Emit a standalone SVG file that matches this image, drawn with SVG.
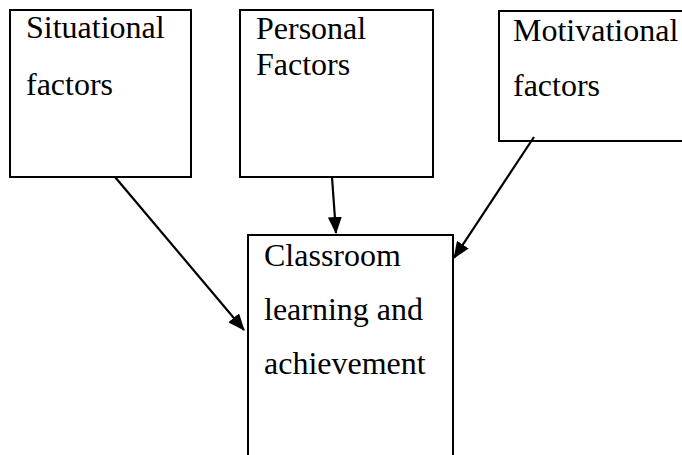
<svg xmlns="http://www.w3.org/2000/svg" width="682" height="455" viewBox="0 0 682 455">
<style>
.box{fill:#fff;stroke:#000;stroke-width:2}
.t{font-family:"Liberation Serif","Times New Roman",serif;font-size:32px;fill:#000}
.c{stroke:#000;stroke-width:2.2;fill:none}
</style>
<defs>
<marker id="ah" markerWidth="17" markerHeight="14" refX="16" refY="7" orient="auto" markerUnits="userSpaceOnUse">
<path d="M0,0 L17,7 L0,14 Z" fill="#000"/>
</marker>
</defs>
<rect width="682" height="455" fill="#fff"/>
<g id="situational">
<rect class="box" x="10" y="10" width="181" height="167"/>
<text class="t" x="26" y="38">Situational</text>
<text class="t" x="26" y="95">factors</text>
</g>
<g id="personal">
<rect class="box" x="240" y="10" width="193" height="167"/>
<text class="t" x="256" y="39">Personal</text>
<text class="t" x="256" y="75">Factors</text>
</g>
<g id="motivational">
<rect class="box" x="499" y="11" width="186" height="130"/>
<text class="t" x="513" y="41">Motivational</text>
<text class="t" x="513" y="96">factors</text>
</g>
<g id="classroom">
<rect class="box" x="248" y="235" width="205" height="230"/>
<text class="t" x="264" y="266">Classroom</text>
<text class="t" x="264" y="320">learning and</text>
<text class="t" x="264" y="374">achievement</text>
</g>
<g id="connectors">
<line class="c" x1="115" y1="177" x2="244" y2="330" marker-end="url(#ah)"/>
<line class="c" x1="332" y1="177" x2="336" y2="233" marker-end="url(#ah)"/>
<line class="c" x1="534" y1="137" x2="454" y2="258" marker-end="url(#ah)"/>
</g>
</svg>
